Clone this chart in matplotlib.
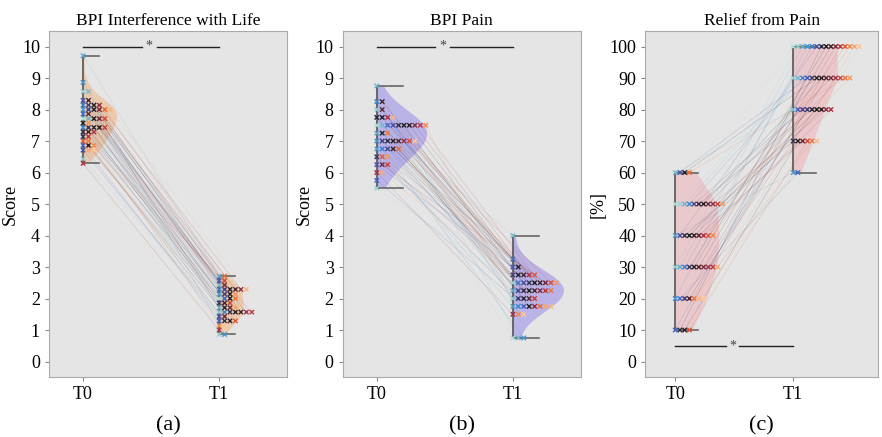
import numpy as np
import matplotlib.pyplot as plt
import seaborn as sns

plt.rcParams['font.family'] = 'Liberation Serif'

# per-patient scores, same patient order in every list (45 patients)
interf_t0 = [7.71, 8.57, 6.43, 8.57, 7.71, 9.71, 8.0, 8.86, 7.43, 8.14,
             7.86, 6.86, 8.29, 6.71, 8.0, 8.14, 7.43, 7.14, 7.29, 7.43,
             8.0, 8.14, 7.71, 7.57, 6.86, 7.43, 7.29, 8.29, 7.86, 7.71,
             8.0, 8.14, 7.29, 6.29, 7.14, 7.43, 7.71, 7.0, 8.0, 7.0,
             6.86, 7.57, 6.71, 8.0, 6.71]
interf_t1 = [2.0, 0.86, 1.57, 2.43, 1.71, 2.71, 2.14, 0.86, 1.57, 2.29,
             2.0, 1.29, 2.57, 1.43, 2.29, 2.14, 1.86, 1.29, 1.57, 1.71,
             2.29, 2.0, 2.14, 1.57, 1.29, 1.57, 1.86, 2.29, 1.71, 1.43,
             2.43, 2.29, 1.57, 1.0, 1.57, 1.86, 2.57, 1.29, 2.71, 2.0,
             1.14, 2.14, 1.71, 2.29, 1.14]

pain_t0 = [7.5, 5.5, 8.0, 7.5, 8.75, 7.25, 6.75, 7.0, 8.25, 6.75,
           7.5, 5.75, 6.25, 7.5, 6.75, 7.0, 6.5, 7.5, 7.0, 7.75,
           7.25, 7.5, 7.75, 7.0, 7.5, 6.75, 8.25, 7.0, 8.0, 6.25,
           7.5, 7.0, 6.0, 7.75, 7.5, 6.25, 7.0, 6.5, 6.75, 7.25,
           7.5, 6.5, 6.0, 7.75, 7.0]
pain_t1 = [0.75, 2.5, 2.0, 4.0, 0.75, 2.25, 1.75, 0.75, 1.75, 2.5,
           3.25, 1.75, 3.0, 2.5, 2.25, 2.75, 2.0, 2.5, 2.25, 2.0,
           2.75, 2.25, 2.5, 1.75, 3.0, 2.5, 2.75, 2.25, 2.0, 2.5,
           2.25, 1.75, 1.5, 2.75, 2.25, 2.0, 2.5, 2.75, 1.75, 2.25,
           1.5, 2.5, 1.75, 1.75, 1.5]

relief_t0 = [50, 50, 30, 60, 50, 30, 40, 20, 50, 30,
             20, 10, 60, 40, 50, 20, 30, 40, 10, 50,
             60, 30, 40, 10, 50, 40, 30, 20, 40, 50,
             30, 50, 30, 40, 30, 50, 10, 40, 60, 20,
             40, 50, 30, 20, 20]
relief_t1 = [100, 90, 100, 80, 90, 100, 60, 100, 90, 100,
             60, 80, 90, 100, 80, 80, 90, 70, 100, 80,
             90, 100, 80, 70, 90, 80, 100, 90, 70, 90,
             100, 80, 90, 80, 100, 90, 70, 100, 90, 70,
             100, 90, 100, 70, 100]

titles = ['BPI Interference with Life', 'BPI Pain', 'Relief from Pain']
ylabels = ['Score', 'Score', '[%]']
panel_tags = ['(a)', '(b)', '(c)']
time_labels = ['T0', 'T1']

colors = sns.color_palette('icefire', len(pain_t0))
bg = '#e5e5e5'


def swarm_offsets(vals, dx=0.04):
    seen = {}
    out = []
    for v in vals:
        k = seen.get(v, 0)
        out.append(k * dx)
        seen[v] = k + 1
    return np.array(out)


def half_violin(ax, vals, pos, width, color, pts=100, bw=None):
    parts = ax.violinplot([vals], positions=[pos], widths=width,
                          showextrema=False, points=pts, bw_method=bw)
    for b in parts['bodies']:
        v = b.get_paths()[0].vertices
        v[:, 0] = np.clip(v[:, 0], pos, np.inf)
        b.set_facecolor(color)
        b.set_edgecolor('none')
        b.set_alpha(0.4)
        b.set_zorder(1)


def range_bar(ax, vals, pos, cap):
    lo, hi = min(vals), max(vals)
    ax.plot([pos, pos], [lo, hi], color='#555555', lw=1.2, zorder=3)
    ax.plot([pos, pos + cap], [lo, lo], color='#666666', lw=1.2, zorder=3)
    ax.plot([pos, pos + cap], [hi, hi], color='#666666', lw=1.2, zorder=3)


def sig_bar(ax, y):
    ax.plot([0, 0.43], [y, y], color='#222222', lw=1, zorder=3)
    ax.plot([0.54, 1], [y, y], color='#222222', lw=1, zorder=3)
    ax.text(0.485, y, '*', ha='center', va='center', fontsize=10, color='#444444')


def draw(ax, t0, t1, vcolor, widths, cap, pts, bws, sig_y):
    half_violin(ax, t0, 0, widths[0], vcolor, pts[0], bws[0])
    half_violin(ax, t1, 1, widths[1], vcolor, pts[1], bws[1])
    x0 = 0 + swarm_offsets(t0)
    x1 = 1 + swarm_offsets(t1)
    for i in range(len(t0)):
        ax.plot([x0[i], x1[i]], [t0[i], t1[i]], color=colors[i], lw=0.5,
                alpha=0.2, zorder=2)
    range_bar(ax, t0, 0, cap)
    range_bar(ax, t1, 1, cap)
    ax.scatter(x0, t0, c=colors, marker='x', s=10, linewidths=1, zorder=4)
    ax.scatter(x1, t1, c=colors, marker='x', s=10, linewidths=1, zorder=4)
    sig_bar(ax, sig_y)


fig = plt.figure(figsize=(8.82, 4.37), dpi=100)
ax_a = fig.add_axes([0.0556, 0.1366, 0.270, 0.793])
ax_b = fig.add_axes([0.3886, 0.1366, 0.270, 0.793])
ax_c = fig.add_axes([0.7316, 0.1366, 0.264, 0.793])
axes = [ax_a, ax_b, ax_c]

draw(ax_a, interf_t0, interf_t1, '#f4a460', (0.5, 0.37), 0.12, (100, 8),
     (None, None), 10)
draw(ax_b, pain_t0, pain_t1, '#7b68ee', (0.74, 0.75), 0.19, (100, 100),
     (0.7, 0.7), 10)
draw(ax_c, relief_t0, relief_t1, '#f4a0a8', (0.75, 0.76), 0.19, (6, 5),
     (None, None), 5)

for i, ax in enumerate(axes):
    ax.set_facecolor(bg)
    for s in ax.spines.values():
        s.set_color('#aaaaaa')
    ax.set_xticks([0, 1])
    ax.set_xticklabels(time_labels)
    ax.tick_params(labelsize=13, length=3, color='#888888')
    ax.set_title(titles[i], fontsize=12.5, pad=4)
    ax.set_ylabel(ylabels[i], fontsize=13, labelpad=2)
    pos = ax.get_position()
    fig.text(pos.x0 + pos.width / 2, 0.025, panel_tags[i], ha='center',
             va='center', fontsize=16)

for ax in (ax_a, ax_b):
    ax.set_ylim(-0.5, 10.5)
    ax.set_yticks(range(0, 11))
    ax.set_xlim(-0.25, 1.5)
ax_c.set_ylim(-5, 105)
ax_c.set_yticks(range(0, 101, 10))
ax_c.set_xlim(-0.254, 1.72)

fig.savefig('out.png', dpi=100)
